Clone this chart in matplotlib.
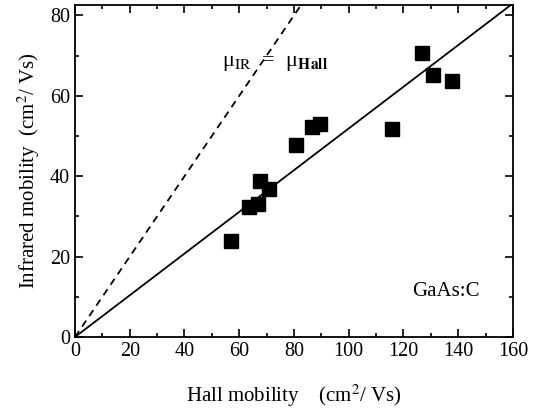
import numpy as np
import matplotlib.pyplot as plt
from matplotlib.ticker import MultipleLocator

# data
hall = [57, 63.6, 66.8, 67.6, 70.8, 80.8, 86.7, 89.6, 115.7, 126.6, 130.8, 137.7]
infrared = [23.9, 32.3, 33.2, 38.9, 36.7, 47.8, 52.2, 53.1, 51.8, 70.6, 65.2, 63.8]

fit_x = [0, 160]
fit_y = [0, 83]          # linear fit through origin
equal_x = [0, 90]
equal_y = [0, 90]        # mu_IR = mu_Hall

plt.rcParams['font.family'] = ['Liberation Serif', 'DejaVu Serif']
plt.rcParams['mathtext.fontset'] = 'stix'

fig = plt.figure(figsize=(5.41, 4.13), dpi=100)
ax = fig.add_axes([0.1386, 0.184, 0.8096, 0.804])

ax.plot(equal_x, equal_y, color='black', linestyle=(0, (4, 3)), linewidth=1.3)
ax.plot(fit_x, fit_y, color='black', linewidth=1.3)
ax.plot(hall, infrared, linestyle='none', marker='s', markersize=10, color='black')

ax.set_xlim(0, 160)
ax.set_ylim(0, 82.6)
ax.xaxis.set_major_locator(MultipleLocator(20))
ax.xaxis.set_minor_locator(MultipleLocator(10))
ax.yaxis.set_major_locator(MultipleLocator(20))
ax.yaxis.set_minor_locator(MultipleLocator(10))
ax.tick_params(which='both', direction='in', top=True, right=True, width=1.2, labelsize=14.5)
ax.tick_params(which='major', length=6)
ax.tick_params(which='minor', length=3)
for s in ax.spines.values():
    s.set_linewidth(1.3)

ax.set_xlabel(r'Hall mobility    (cm$^2$/ Vs)', fontsize=15, labelpad=16)
ax.set_ylabel(r'Infrared mobility  (cm$^2$/ Vs)', fontsize=15, labelpad=6)

ax.text(53.6, 68, r'μ$_{\mathrm{IR}}$  =  μ$_{\mathbf{Hall}}$', fontsize=16, va='center')
ax.text(123.3, 11.2, 'GaAs:C', fontsize=15, va='center')

fig.savefig('out.png', dpi=100)
